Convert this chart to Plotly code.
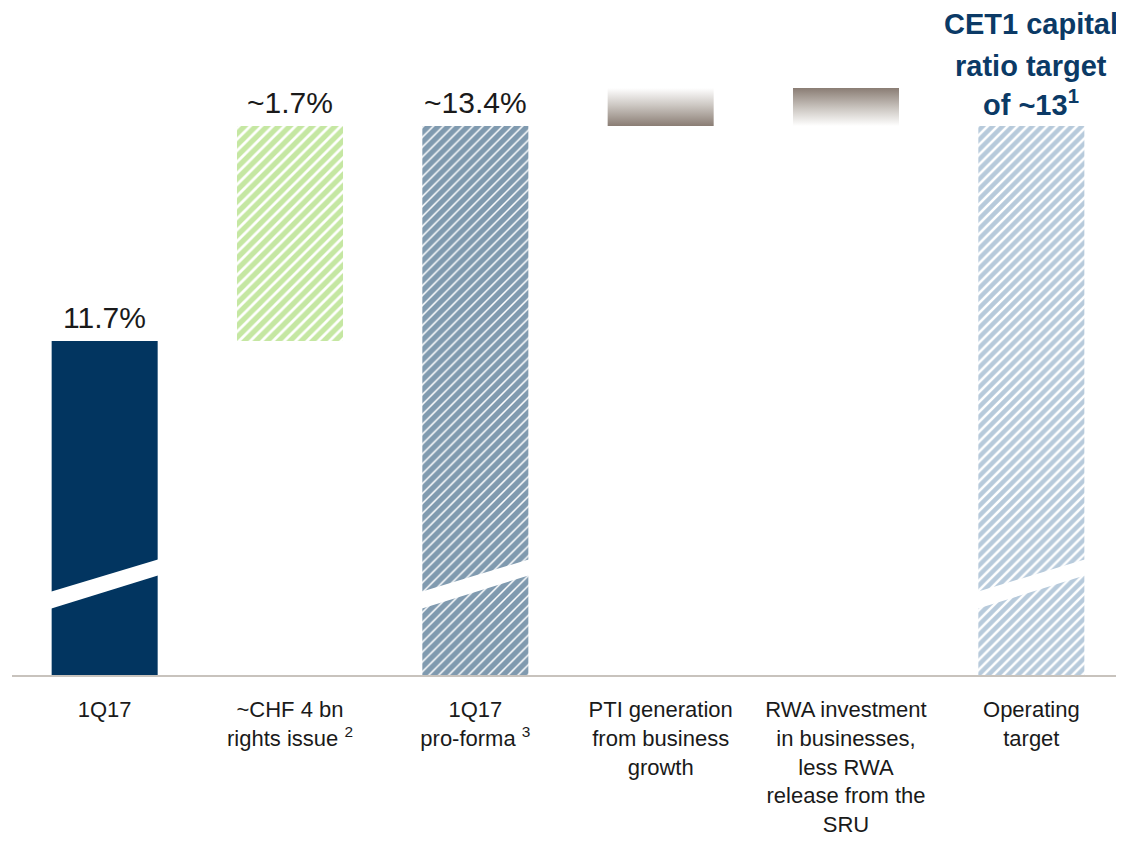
import plotly.graph_objects as go

# categories and values (CET1 ratio, %)
categories = ["1Q17", "~CHF 4 bn<br>rights issue <sup>2</sup>", "1Q17<br>pro-forma <sup>3</sup>",
              "PTI generation<br>from business<br>growth",
              "RWA investment<br>in businesses,<br>less RWA<br>release from the<br>SRU",
              "Operating<br>target"]
start_ratio = 11.7
rights_issue = 1.7
pro_forma = 13.4
pti_growth = 0.3
rwa_net = -0.3
target = 13.4
value_labels = ["11.7%", "~1.7%", "~13.4%"]
title_lines = ["CET1 capital", "ratio target", "of ~13<sup>1</sup>"]

NAVY = "#023560"
GREEN = "#8ccf45"
LIGHTBLUE = "#6f95b8"
TAUPE = "#8a7d74"
FONT = "Liberation Sans"

x = list(range(len(categories)))
w = 0.572
y_min, y_max = 9.059, 14.333

fig = go.Figure()

# 1Q17 solid bar
fig.add_bar(x=[0], y=[start_ratio], width=w, marker=dict(color=NAVY, line_width=0))
# rights issue, floating
fig.add_bar(x=[1], y=[rights_issue], base=[start_ratio], width=w,
            marker=dict(color="white", line_width=0,
                        pattern=dict(shape="/", fgcolor=GREEN, bgcolor="white",
                                     size=8, solidity=0.66)))
# pro-forma
fig.add_bar(x=[2], y=[pro_forma], width=w,
            marker=dict(color="white", line_width=0,
                        pattern=dict(shape="/", fgcolor=NAVY, bgcolor="white",
                                     size=7, solidity=0.78)))
# operating target
fig.add_bar(x=[5], y=[target], width=w,
            marker=dict(color="white", line_width=0,
                        pattern=dict(shape="/", fgcolor=LIGHTBLUE, bgcolor="white",
                                     size=7, solidity=0.64)))

# gradient boxes for PTI and RWA effects
for i, delta in [(3, pti_growth), (4, rwa_net)]:
    lo, hi = sorted([pro_forma, pro_forma + abs(delta)])
    if delta > 0:
        cs = [[0, TAUPE], [0.55, "#cdc8c3"], [1, "white"]]
    else:
        cs = [[0, "white"], [0.45, "#cdc8c3"], [1, TAUPE]]
    fig.add_trace(go.Scatter(
        x=[i - w / 2, i + w / 2, i + w / 2, i - w / 2, i - w / 2],
        y=[lo, lo, hi, hi, lo], mode="lines", line=dict(width=0),
        fill="toself", fillgradient=dict(type="vertical", colorscale=cs),
        hoverinfo="skip"))

# axis break bands on the full-height bars
for i in [0, 2, 5]:
    fig.add_shape(type="path", xref="x", yref="y", layer="above",
                  path=f"M {i - w/2 - 0.01},9.58 L {i + w/2 + 0.01},9.85 "
                       f"L {i + w/2 + 0.01},9.976 L {i - w/2 - 0.01},9.715 Z",
                  fillcolor="white", line_width=0)

# value labels
tops = [start_ratio, start_ratio + rights_issue, pro_forma]
for i, (lab, top) in enumerate(zip(value_labels, tops)):
    fig.add_annotation(x=i, y=top, text=lab, showarrow=False, yanchor="bottom",
                       yshift=5, font=dict(family=FONT, size=30, color="#1a1a1a"))

# target heading, one line per annotation
for line, ypos in zip(title_lines, [0.976, 0.913, 0.858]):
    fig.add_annotation(x=5, y=ypos, yref="paper", text=line, showarrow=False,
                       yanchor="middle", xanchor="center",
                       font=dict(family=FONT, size=29, color="#0b3a66", weight="bold"))

fig.update_layout(
    width=1116, height=839, showlegend=False, barmode="overlay",
    plot_bgcolor="white", paper_bgcolor="white",
    margin=dict(l=4, r=0, t=0, b=172),
    font=dict(family=FONT, size=22, color="#1a1a1a"),
    xaxis=dict(range=[-0.5, 5.5], tickvals=x, ticktext=categories,
               showgrid=False, zeroline=False, showline=True, automargin=False,
               linecolor="#c8c3bd", linewidth=2, ticks="", ticklabelstandoff=14),
    yaxis=dict(range=[y_min, y_max], visible=False),
)

fig.write_html("out.html")
